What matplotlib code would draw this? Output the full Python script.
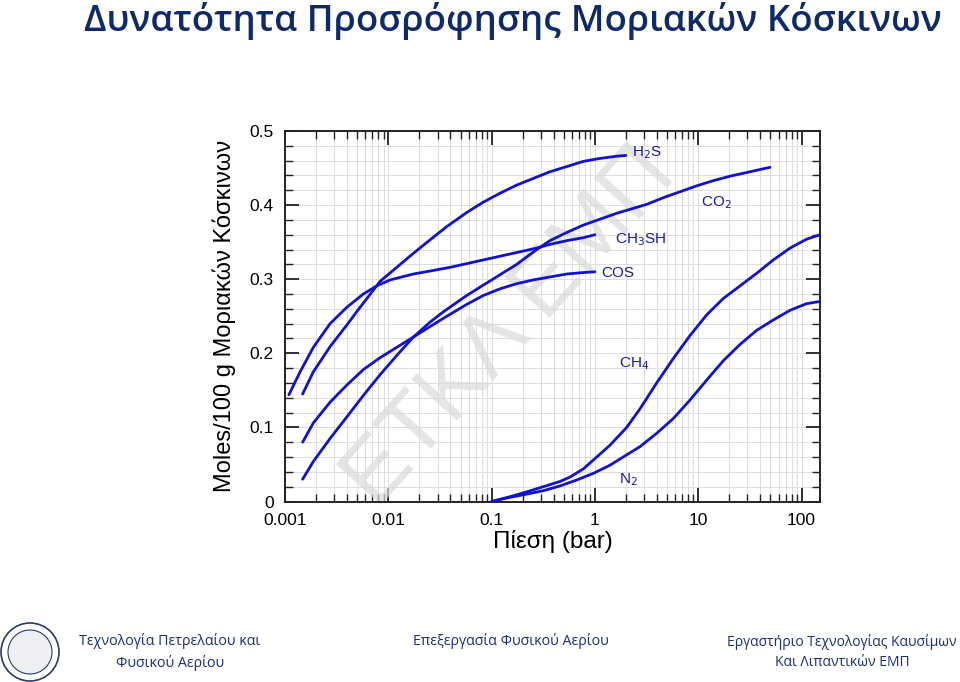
import matplotlib
matplotlib.use("Agg")
import matplotlib.pyplot as plt
from matplotlib.ticker import FixedLocator, NullFormatter, LogLocator
from matplotlib.patches import Ellipse

# ---------------- data ----------------
h2s_p = [0.00148, 0.00188, 0.00273, 0.00396, 0.00494, 0.00831, 0.0175, 0.0253, 0.0368,
         0.0574, 0.0831, 0.1205, 0.175, 0.253, 0.367, 0.533, 0.772, 1.12, 1.63, 2.0]
h2s_q = [0.145, 0.175, 0.209, 0.238, 0.256, 0.297, 0.335, 0.353, 0.371,
         0.390, 0.404, 0.416, 0.427, 0.436, 0.445, 0.452, 0.459, 0.463, 0.466, 0.467]

ch3sh_p = [0.00109, 0.00140, 0.00188, 0.00273, 0.00396, 0.00573, 0.00772, 0.0104, 0.0175,
           0.0253, 0.0396, 0.0574, 0.0831, 0.1205, 0.175, 0.273, 0.367, 0.533, 0.772, 1.0]
ch3sh_q = [0.144, 0.175, 0.208, 0.240, 0.262, 0.280, 0.291, 0.299, 0.307,
           0.311, 0.316, 0.321, 0.326, 0.331, 0.336, 0.342, 0.347, 0.352, 0.356, 0.360]

cos_p = [0.00148, 0.00188, 0.00273, 0.00396, 0.00573, 0.00831, 0.01206, 0.0175, 0.0253,
         0.0368, 0.0574, 0.0831, 0.1205, 0.175, 0.253, 0.367, 0.533, 0.772, 1.0]
cos_q = [0.080, 0.106, 0.134, 0.157, 0.178, 0.194, 0.208, 0.222, 0.236,
         0.250, 0.266, 0.278, 0.287, 0.294, 0.299, 0.303, 0.307, 0.309, 0.310]

co2_p = [0.00148, 0.00188, 0.00273, 0.00396, 0.00573, 0.00831, 0.01206, 0.0175, 0.0253,
         0.0341, 0.0574, 0.0831, 0.1205, 0.175, 0.273, 0.367, 0.533, 0.772, 1.12, 1.63,
         3.17, 4.59, 6.66, 9.67, 14.0, 20.3, 29.5, 49.5]
co2_q = [0.030, 0.054, 0.085, 0.114, 0.143, 0.171, 0.197, 0.222, 0.242,
         0.256, 0.278, 0.292, 0.306, 0.320, 0.340, 0.352, 0.363, 0.373, 0.381, 0.389,
         0.401, 0.410, 0.418, 0.426, 0.433, 0.439, 0.444, 0.451]

ch4_p = [0.1, 0.151, 0.219, 0.317, 0.459, 0.574, 0.772, 0.966, 1.40, 2.03, 2.73, 3.96,
         5.74, 8.33, 12.1, 17.5, 25.4, 36.8, 53.3, 77.4, 112, 151]
ch4_q = [0.0, 0.0065, 0.013, 0.020, 0.027, 0.033, 0.044, 0.056, 0.076, 0.100, 0.125, 0.160,
         0.193, 0.224, 0.252, 0.274, 0.291, 0.308, 0.326, 0.342, 0.354, 0.360]

n2_p = [0.1, 0.151, 0.219, 0.317, 0.459, 0.666, 0.966, 1.40, 2.03, 2.73, 3.96,
        5.74, 8.33, 12.1, 17.5, 25.4, 36.8, 53.3, 77.4, 112, 151]
n2_q = [0.0, 0.0057, 0.010, 0.0146, 0.021, 0.029, 0.038, 0.049, 0.063, 0.074, 0.092,
        0.112, 0.137, 0.164, 0.190, 0.212, 0.231, 0.245, 0.258, 0.267, 0.270]

series = [(h2s_p, h2s_q), (ch3sh_p, ch3sh_q), (cos_p, cos_q),
          (co2_p, co2_q), (ch4_p, ch4_q), (n2_p, n2_q)]

labels = [r"H$_2$S", r"CO$_2$", r"CH$_3$SH", "COS", r"CH$_4$", r"N$_2$"]
label_x = [2.28, 10.6, 1.57, 1.15, 1.71, 1.71]
label_y = [0.471, 0.403, 0.353, 0.308, 0.186, 0.029]

x_ticks = [0.001, 0.01, 0.1, 1, 10, 100]
x_ticklabels = ["0.001", "0.01", "0.1", "1", "10", "100"]
y_ticks = [0, 0.1, 0.2, 0.3, 0.4, 0.5]
y_ticklabels = ["0", "0.1", "0.2", "0.3", "0.4", "0.5"]

title = "Δυνατότητα Προσρόφησης Μοριακών Κόσκινων"
xlabel = "Πίεση (bar)"
ylabel = "Moles/100 g Μοριακών Κόσκινων"
watermark = "ΕΤΚΛ ΕΜΠ"
footer_left = "Τεχνολογία Πετρελαίου και\nΦυσικού Αερίου"
footer_mid = "Επεξεργασία Φυσικού Αερίου"
footer_right = "Εργαστήριο Τεχνολογίας Καυσίμων\nΚαι Λιπαντικών ΕΜΠ"

# ---------------- figure ----------------
plt.rcParams['font.family'] = ['Liberation Sans', 'DejaVu Sans']
fig = plt.figure(figsize=(9.6, 6.82), dpi=100)
ax = fig.add_axes([285/960, 1-501.5/682, (820-285)/960, (501.5-131)/682])

line_color = "#1010d8"
for p, q in series:
    ax.plot(p, q, color=line_color, lw=2.0, solid_capstyle='round',
            solid_joinstyle='round', zorder=3)

ax.set_xscale('log')
ax.set_xlim(0.001, 151)
ax.set_ylim(0, 0.5)

ax.xaxis.set_major_locator(FixedLocator(x_ticks))
ax.set_xticklabels(x_ticklabels)
ax.xaxis.set_minor_locator(LogLocator(base=10, subs=range(2, 10), numticks=20))
ax.xaxis.set_minor_formatter(NullFormatter())
ax.yaxis.set_major_locator(FixedLocator(y_ticks))
ax.set_yticklabels(y_ticklabels)
ax.yaxis.set_minor_locator(FixedLocator([i * 0.02 for i in range(26)]))

ax.tick_params(which='both', direction='in', top=True, right=True, color='#222222')
ax.tick_params(which='major', length=10, width=1.3, labelsize=12.5)
ax.tick_params(which='minor', length=6, width=1.0)
ax.tick_params(axis='y', which='major', pad=8)
ax.tick_params(axis='x', which='major', pad=8)

ax.grid(True, which='both', color='#dddddd', lw=0.7, zorder=0)
ax.set_axisbelow(True)
for s in ax.spines.values():
    s.set_linewidth(1.4)
    s.set_color('#222222')

for lab, lx, ly in zip(labels, label_x, label_y):
    ax.text(lx, ly, lab, color='#1a1aa0', fontsize=11, ha='left', va='center', zorder=4)

# watermark
ax.text(0.42, 0.47, watermark, transform=ax.transAxes, rotation=48,
        fontsize=64, color='#dadada', alpha=0.7, ha='center', va='center',
        zorder=1.5)

ax.set_xlabel(xlabel, fontsize=17.5, labelpad=2)
ax.set_ylabel(ylabel, fontsize=17, labelpad=10)

# title
fig.text(513/960, 1-21/682, title, fontsize=26.3, color='#0d2a6b', ha='center', va='center',
         family=['Open Sans', 'DejaVu Sans'], fontweight='semibold')

# footer
fcol = '#1b2f7a'
ffam = ['Open Sans', 'DejaVu Sans']
fig.text(170/960, 1-652/682, footer_left, fontsize=10.3, color=fcol, ha='center', va='center',
         family=ffam, linespacing=1.45)
fig.text(511/960, 1-641/682, footer_mid, fontsize=10.3, color=fcol, ha='center', va='center',
         family=ffam)
fig.text(842/960, 1-652/682, footer_right, fontsize=10.0, color=fcol, ha='center', va='center',
         family=ffam, linespacing=1.5)

# logo approximation
cx, cy = 30/960, 1-652/682
fig.patches.append(Ellipse((cx, cy), 58/960, 58/682, transform=fig.transFigure,
                           facecolor='white', edgecolor='#2a3a6a', lw=1.2))
fig.patches.append(Ellipse((cx, cy), 44/960, 44/682, transform=fig.transFigure,
                           facecolor='#eef0f6', edgecolor='#2a3a6a', lw=0.8))

fig.savefig('out.png', dpi=100)
